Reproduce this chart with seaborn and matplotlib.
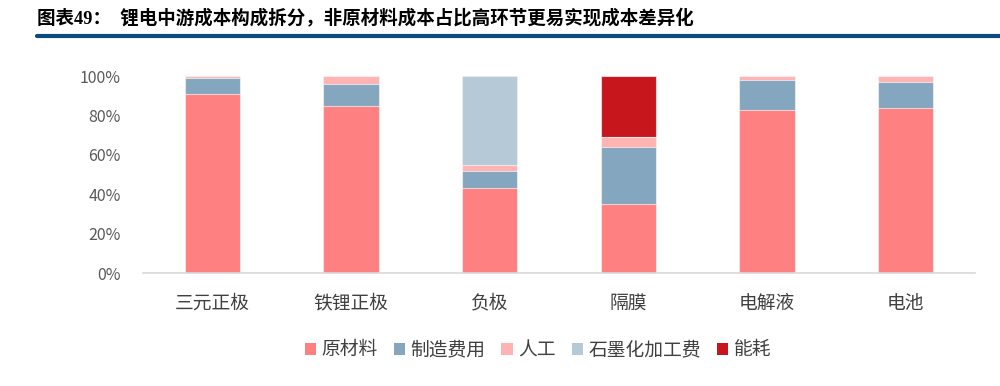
import matplotlib
matplotlib.use("Agg")
import matplotlib.pyplot as plt
from matplotlib.patches import Patch
from matplotlib.ticker import PercentFormatter
import seaborn as sns
import pandas as pd
import numpy as np

categories = ["三元正极", "铁锂正极", "负极", "隔膜", "电解液", "电池"]
raw_material = [0.91, 0.85, 0.43, 0.35, 0.83, 0.84]
manufacturing = [0.08, 0.11, 0.09, 0.29, 0.15, 0.13]
labor = [0.01, 0.04, 0.03, 0.05, 0.02, 0.03]
graphite = [0.00, 0.00, 0.45, 0.00, 0.00, 0.00]
energy = [0.00, 0.00, 0.00, 0.31, 0.00, 0.00]

series_names = ["原材料", "制造费用", "人工", "石墨化加工费", "能耗"]
colors = ["#FF8080", "#84A6BE", "#FFB3B3", "#B5C9D7", "#C8161D"]

sns.set_style("white")
plt.rcParams["font.family"] = ["Noto Sans CJK SC", "DejaVu Sans"]

df = pd.DataFrame({"cat": categories, "原材料": raw_material, "制造费用": manufacturing,
                   "人工": labor, "石墨化加工费": graphite, "能耗": energy})
cum = df[series_names].cumsum(axis=1)

fig = plt.figure(figsize=(10, 3.86), dpi=100)
ax = fig.add_axes([0.143, 0.292, 0.832, 0.511])

# draw cumulative tops from the last series down so each layer shows
for name, col in reversed(list(zip(series_names, colors))):
    sns.barplot(x=df["cat"], y=cum[name], color=col, width=0.4, ax=ax,
                edgecolor=(1, 1, 1, 0.6), linewidth=0.8, saturation=1)

ax.set_ylim(0, 1)
ax.set_xlim(-0.5, 5.5)
ax.set_yticks(np.arange(0, 1.01, 0.2))
ax.yaxis.set_major_formatter(PercentFormatter(1.0, decimals=0))
ax.set_xlabel("")
ax.set_ylabel("")
for s in ["top", "right", "left"]:
    ax.spines[s].set_visible(False)
ax.spines["bottom"].set_color("#D9D9D9")
ax.spines["bottom"].set_linewidth(1.2)
ax.tick_params(axis="y", length=0, labelsize=11.5, labelcolor="#595959", pad=16)
ax.tick_params(axis="x", length=0, labelsize=13.5, labelcolor="#404040", pad=14)

handles = [Patch(facecolor=c, edgecolor="none") for c in colors]
fig.legend(handles, series_names, loc="center", bbox_to_anchor=(0.538, 0.094), ncol=5,
           frameon=False, fontsize=13.5, handlelength=0.6, handleheight=0.6,
           handletextpad=0.3, columnspacing=0.85, labelcolor="#404040")

fig.text(0.037, 0.95, "图表49：  锂电中游成本构成拆分，非原材料成本占比高环节更易实现成本差异化",
         fontsize=13.3, fontweight="bold", color="black", va="center", ha="left",
         family=["Liberation Serif", "Noto Sans CJK SC"])
fig.add_artist(plt.Line2D([0.037, 1.0], [0.907, 0.907], color="#0B4A80", linewidth=3))

fig.savefig("out.png", dpi=100)
